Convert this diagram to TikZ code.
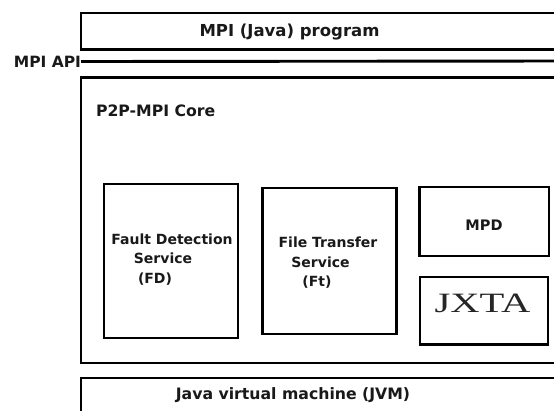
\documentclass[tikz,border=0pt]{standalone}
\usepackage{fontspec}
\usepackage{graphicx}
\setmainfont{DejaVu Sans}
\newfontfamily\jxtafont{Liberation Serif}
\tikzset{
  box/.style={draw=black, line width=2.9pt, inner sep=0pt, outer sep=0pt, fill=none},
  txt/.style={inner sep=0pt, outer sep=0pt, font=\bfseries\fontsize{16}{18}\selectfont, text=black!90},
  smalltxt/.style={inner sep=0pt, outer sep=0pt, font=\bfseries\fontsize{14}{16}\selectfont, text=black!90},
}
\begin{document}
\begin{tikzpicture}[x=1pt,y=-1pt]
\clip (0,0) rectangle (554,410);
\fill[white] (0,0) rectangle (554,410);
% outer layers
\node[box, minimum width=519pt, minimum height=36.5pt] (prog) at (340.5,31.25) {};
\node[txt, font=\bfseries\fontsize{16.5}{18}\selectfont] (progtxt) at (289.5,32.5) {MPI (Java) program};
\coordinate (apiR) at (570,61);
\node[txt, anchor=east, font=\bfseries\fontsize{15.5}{18}\selectfont] (api) at (81,61.5) {MPI API};
\draw[line width=2.9pt] (api.east) -- (apiR);
\node[box, minimum width=519pt, minimum height=285.3pt] (core) at (340.5,220.35) {};
\node[txt, anchor=west, font=\bfseries\fontsize{15.7}{18}\selectfont] (coretxt) at (96,110.5) {P2P-MPI Core};
\node[box, minimum width=519pt, minimum height=60pt] (jvm) at (340.5,408) {};
\node[txt, font=\bfseries\fontsize{15.7}{18}\selectfont] (jvmtxt) at (293,395) {Java virtual machine (JVM)};
% inner services
\node[box, minimum width=134pt, minimum height=154pt] (fd) at (171,261) {};
\node[smalltxt] (fd1) at (172,239) {Fault Detection};
\node[smalltxt] (fd2) at (163,258.5) {Service};
\node[smalltxt] (fd3) at (155,279) {(FD)};
\node[box, minimum width=134pt, minimum height=146pt] (ft) at (329.4,261) {};
\node[smalltxt] (ft1) at (328,242.5) {File Transfer};
\node[smalltxt] (ft2) at (320.5,262) {Service};
\node[smalltxt] (ft3) at (317,282) {(Ft)};
\node[box, minimum width=129.5pt, minimum height=69pt] (mpd) at (484.25,221.5) {};
\node[smalltxt, font=\bfseries\fontsize{14.5}{16}\selectfont] (mpdtxt) at (484,225) {MPD};
\node[box, minimum width=128pt, minimum height=67.5pt] (jxta) at (484,310.75) {};
\node[inner sep=0pt, text=black!85] (jxtatxt) at (482.5,303.5) {\scalebox{1.45}[1]{\jxtafont\fontsize{28}{30}\selectfont JXTA}};
\end{tikzpicture}
\end{document}
